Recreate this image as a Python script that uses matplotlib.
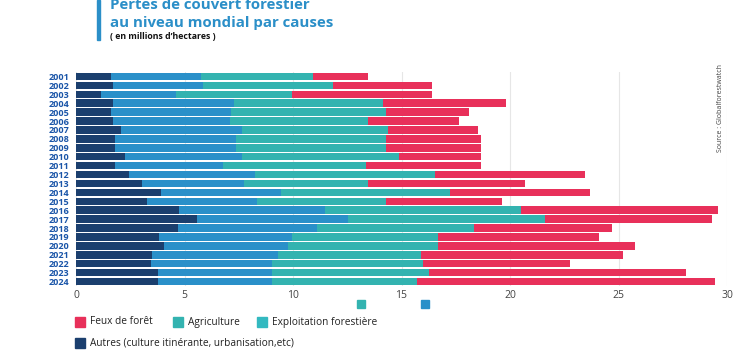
import matplotlib
matplotlib.use("Agg")
import matplotlib.pyplot as plt
from matplotlib.patches import Rectangle

years = [str(y) for y in range(2001, 2025)]

# valeurs en millions d'hectares
autres = [1.60, 1.72, 1.14, 1.72, 1.60, 1.72, 2.07, 1.81, 1.81, 2.26, 1.81, 2.46,
          3.03, 3.90, 3.29, 4.76, 5.56, 4.69, 3.81, 4.04, 3.50, 3.44, 3.78, 3.78]
exploitation = [4.18, 4.15, 3.47, 5.58, 5.54, 5.39, 5.58, 5.56, 5.56, 5.39, 4.98, 5.79,
                4.71, 5.55, 5.07, 6.70, 6.97, 6.40, 6.13, 5.73, 5.81, 5.59, 5.25, 5.25]
agriculture = [5.12, 5.96, 5.34, 6.83, 7.13, 6.35, 6.73, 6.90, 6.90, 7.22, 6.56, 8.31,
               5.73, 7.79, 5.93, 9.06, 9.07, 7.25, 6.76, 6.93, 6.60, 6.96, 7.24, 6.67]
feux = [2.56, 4.59, 6.46, 5.70, 3.83, 4.18, 4.13, 4.38, 4.38, 3.78, 5.30, 6.90,
        7.21, 6.43, 5.33, 9.08, 7.69, 6.37, 7.39, 9.06, 9.30, 6.79, 11.85, 13.76]

c_autres = "#1b3f6e"
c_expl = "#2a90c9"
c_agri = "#33b3b0"
c_feux = "#e8305a"

plt.rcParams['font.family'] = ['Open Sans', 'DejaVu Sans']

fig = plt.figure(figsize=(7.5, 3.5), dpi=100)
ax = fig.add_axes([76/750, 1-286/350, (727-76)/750, (286-72)/350])

y = list(range(len(years)))
h = 0.85
left = [0]*len(years)
for vals, col in [(autres, c_autres), (exploitation, c_expl), (agriculture, c_agri), (feux, c_feux)]:
    ax.barh(y, vals, left=left, height=h, color=col, zorder=3)
    left = [a + b for a, b in zip(left, vals)]

ax.set_ylim(len(years)-0.5, -0.5)
ax.set_xlim(0, 30)
ax.set_yticks(y)
ax.set_yticklabels(years, fontsize=6.5, fontweight='bold', color="#1a55a8")
ax.set_xticks([0, 5, 10, 15, 20, 25, 30])
ax.tick_params(axis='x', length=0, labelsize=7.5, labelcolor="#444444", pad=3)
ax.tick_params(axis='y', length=0, pad=5)
ax.grid(axis='x', color="#e6e6e6", lw=0.8, zorder=0)
for s in ax.spines.values():
    s.set_visible(False)

# titre
fig.add_artist(Rectangle((97/750, 1-40/350), 3/750, 40/350, color="#2b8fc8", transform=fig.transFigure))
fig.text(110/750, 1-9/350, "Pertes de couvert forestier", fontsize=10.8, fontweight='bold',
         color="#2b8fc8", va='baseline')
fig.text(110/750, 1-27/350, "au niveau mondial par causes", fontsize=10.8, fontweight='bold',
         color="#2b8fc8", va='baseline')
fig.text(110/750, 1-39/350, "( en millions d\u2019hectares )", fontsize=6.3, fontweight='bold',
         color="#111111", va='baseline')

fig.text(720/750, 1-108/350, "Source : Globalforestwatch", fontsize=5, rotation=90,
         color="#444444", ha='center', va='center')

# petits carrés isolés sous l'axe
fig.add_artist(Rectangle((357/750, 1-308/350), 8/750, 8/350, color=c_agri, transform=fig.transFigure))
fig.add_artist(Rectangle((421/750, 1-308/350), 8/750, 8/350, color=c_expl, transform=fig.transFigure))

# légende
legend_items = [(75, 322, c_feux, "Feux de forêt"),
                (173, 322, c_agri, "Agriculture"),
                (257, 322, "#33b9c0", "Exploitation forestière"),
                (75, 343, c_autres, "Autres (culture itinérante, urbanisation,etc)")]
for lx, ly, col, lab in legend_items:
    fig.add_artist(Rectangle((lx/750, 1-(ly+5)/350), 10/750, 10/350, color=col, transform=fig.transFigure))
    fig.text((lx+15)/750, 1-ly/350, lab, fontsize=7.3, color="#222222", va='center')

fig.savefig("out.png", dpi=100)
